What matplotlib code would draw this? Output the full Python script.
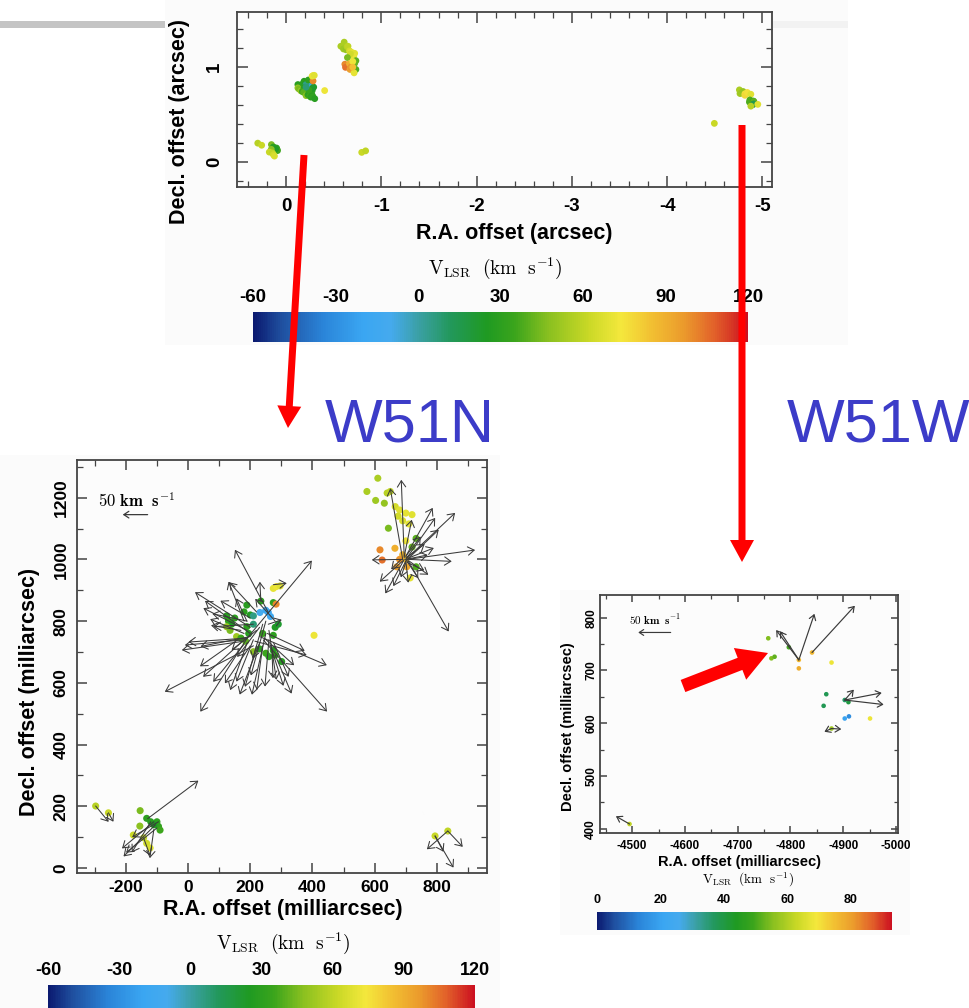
import numpy as np
import matplotlib
matplotlib.use('Agg')
import matplotlib.pyplot as plt
from matplotlib.colors import LinearSegmentedColormap, Normalize
from matplotlib.patches import Rectangle, FancyArrow
from matplotlib.ticker import MultipleLocator
import matplotlib.cm as cm

plt.rcParams['axes.unicode_minus'] = False
plt.rcParams['mathtext.fontset'] = 'cm'
plt.rcParams['font.family'] = ['Liberation Sans', 'DejaVu Sans']
plt.rcParams['font.weight'] = 'bold'

W, H = 970, 1008

# colour scale of the VLSR bars
cmap_pos = [0.0, 0.056, 0.139, 0.222, 0.278, 0.333, 0.40, 0.472, 0.528, 0.60, 0.678, 0.744, 0.806, 0.872, 0.933, 1.0]
cmap_col = ['#0b1a70', '#1f4f9f', '#2a84d8', '#3aa6f2', '#45aaee', '#3ba0a6', '#22985a', '#1f9a22',
            '#3aa41c', '#8cc120', '#c9d826', '#f4e83c', '#f2c032', '#eb9a2c', '#e2622a', '#cc1020']
cbar_ticks_n = [-60, -30, 0, 30, 60, 90, 120]
cbar_ticks_w = [0, 20, 40, 60, 80]

# W51N maser spots (mas, mas, km/s)
n_x = [124, 130, 140, 150, 124, 135, 156, 189, 180, 200, 231, 258, 265, 250, 210, 189, 195, 170, 185, 210,
       230, 250, 274, 260, 280, 301, 274, 280, 290, 240, 234, 274, 283, 274, 284, 296, 405, 210,
       610, 575, 603, 631, 640, 650, 666, 680, 700, 720, 690, 710, 675, 644,
       617, 624, 665, 671, 703, 690, 680, 733, 733, 720, 714, 700, 700,
       -297, -256, -154, -133, -120, -100, -95, -90, -110, -155, -176, -143, -133, -122,
       794, 835]
n_y = [817, 800, 790, 810, 782, 770, 750, 852, 830, 820, 828, 828, 815, 835, 817, 782, 760, 745, 735, 701,
       710, 696, 705, 685, 690, 669, 754, 780, 790, 760, 865, 860, 855, 906, 912, 914, 754, 790,
       1263, 1220, 1191, 1182, 1215, 1220, 1171, 1160, 1150, 1145, 1125, 1115, 1140, 1101,
       1031, 998, 1036, 976, 976, 1015, 1000, 1068, 976, 1040, 940, 1060, 1000,
       201, 179, 186, 161, 150, 150, 135, 123, 140, 136, 107, 98, 80, 65,
       104, 120]
n_v = [28, 32, 25, 30, 50, 45, 52, 28, 30, 26, -10, -20, -15, -18, 5, 30, 28, 35, 40, 48,
       30, 35, 28, 30, 32, 28, 30, 25, 22, 34, 30, 30, 100, 70, 72, 68, 72, 8,
       55, 55, 52, 50, 58, 60, 65, 68, 70, 68, 66, 70, 64, 45,
       100, 105, 90, 95, 92, 88, 98, 40, 38, 42, 70, 72, 85,
       58, 62, 45, 30, 28, 30, 32, 35, 25, 48, 62, 60, 64, 66,
       62, 60]

# W51N proper motions: origin (mas) and velocity (km/s)
na_x = [258, 190, 190, 234, 274, 242, 230, 215, 258, 200, 180, 189, 200, 190, 180, 190, 185, 180, 210, 160,
        170, 180, 200, 190, 210, 220, 250, 240, 260, 270, 265, 280, 275,
        190, 200, 210, 220, 230, 240, 250, 260, 230, 200, 170, 245, 255, 280, 220,
        695, 690, 700, 705, 700, 705, 695, 705, 710, 710, 690, 690, 700, 695, 700, 705, 700, 700, 705, 700,
        700, 710, 700, 685,
        -130, -297, -256, -110, -105, -100, -110, -95, -143, -120,
        835, 835, 794, 794]
na_y = [828, 745, 745, 865, 918, 739, 750, 735, 790, 780, 800, 800, 760, 770, 760, 745, 740, 735, 720, 740,
        730, 725, 720, 730, 740, 720, 760, 720, 740, 700, 720, 690, 730,
        800, 810, 790, 770, 780, 790, 800, 770, 730, 750, 770, 745, 760, 800, 830,
        1005, 1000, 1010, 1005, 1000, 1000, 1010, 1000, 1000, 995, 1000, 995, 995, 1000, 995, 1000, 1005, 1000,
        990, 1000, 1010, 1005, 990, 1000,
        160, 201, 179, 150, 140, 130, 125, 150, 98, 150,
        120, 120, 104, 104]
na_vx = [-67, 130, -94, -2, 27, 128, 135, 104, 27, -111, -31, -21, -91, -88, -68, -118, -122, -125, -178, -76,
         -76, -62, -51, -34, -34, -23, -28, -12, -8, 2, 26, 33, 30,
         -70, -60, -80, -50, -45, -20, -30, 15, -40, -100, -60, 60, 75, -40, -55,
         -6, -25, 54, 96, 59, 63, 15, 136, 86, 39, -62, -46, -25, -38, 5, 83, 38, 44, 34, 25,
         30, 50, -10, -20,
         102, 26, 10, -64, -64, -62, -8, -53, 13, -38,
         -42, 30, 37, 17]
na_vy = [127, 157, -149, 39, 3, -145, -58, -28, 9, 71, 80, 46, 66, 45, 29, -8, -11, -18, -93, -54,
         -69, -76, -76, -96, -85, -83, -124, -89, -95, -53, -81, -78, -69,
         15, 35, -5, -40, -60, -70, -110, -100, -105, -20, 10, -55, -35, 45, 60,
         158, 144, 98, 91, 84, 60, 74, 19, -4, -28, -1, -42, -51, -69, -44, -146, 28, 9, -16, -38,
         40, 20, -30, -20,
         77, -32, -18, -54, -64, -50, -58, -31, -36, -62,
         -37, -32, -64, -32]

# W51W maser spots
w_x = [-4758, -4764, -4770, -4797, -4816, -4816, -4841, -4878, -4868, -4863, -4903, -4910, -4903, -4911,
       -4951, -4878, -4495]
w_y = [761, 723, 726, 744, 720, 704, 734, 715, 655, 633, 644, 640, 609, 613, 609, 590, 409]
w_v = [55, 55, 52, 50, 76, 78, 76, 68, 38, 38, 36, 40, 20, 15, 68, 58, 62]

# W51W proper motions
wa_x = [-4816, -4816, -4816, -4841, -4903, -4903, -4903, -4878, -4878, -4495]
wa_y = [720, 720, 720, 734, 644, 644, 644, 590, 590, 409]
wa_vx = [35, 29, -24, -66, -14, -57, -60, 11, -15, 21]
wa_vy = [46, 44, 71, 72, 16, 11, -7, -5, -1, 12]

scale_n = 1.6   # mas per km/s in the W51N map
scale_w = 1.23  # mas per km/s in the W51W map

cmap = LinearSegmentedColormap.from_list('vlsr', list(zip(cmap_pos, cmap_col)))
norm_n = Normalize(-60, 120)
norm_w = Normalize(0, 93)
ARROW = '->,head_length=0.45,head_width=0.3'


def px(x0, y0, x1, y1):
    return [x0 / W, 1 - y1 / H, (x1 - x0) / W, (y1 - y0) / H]


def style_axes(ax, major, minor, size, majlen, minlen, xpad, ypad):
    ax.set_facecolor('#fcfcfc')
    for s in ax.spines.values():
        s.set_color('#444444')
        s.set_linewidth(1.3)
    ax.xaxis.set_major_locator(MultipleLocator(major[0]))
    ax.xaxis.set_minor_locator(MultipleLocator(minor[0]))
    ax.yaxis.set_major_locator(MultipleLocator(major[1]))
    ax.yaxis.set_minor_locator(MultipleLocator(minor[1]))
    ax.tick_params(which='both', direction='in', top=True, right=True, color='#444444')
    ax.tick_params(which='major', length=majlen, width=1.1, labelsize=size)
    ax.tick_params(which='minor', length=minlen, width=0.9)
    ax.tick_params(axis='x', pad=xpad)
    ax.tick_params(axis='y', pad=ypad)
    for t in ax.get_yticklabels():
        t.set_rotation(90)
        t.set_va('center')


def draw_arrows(ax, x0, y0, vx, vy, scale, lw, ms):
    for a, b, c, d in zip(x0, y0, vx, vy):
        ax.annotate('', xy=(a + c * scale, b + d * scale), xytext=(a, b),
                    arrowprops=dict(arrowstyle=ARROW, color='#3a3a3a', lw=lw,
                                    shrinkA=0, shrinkB=0, mutation_scale=ms), zorder=3)


def colorbar(rect, norm, ticks, size):
    cax = fig.add_axes(px(*rect))
    cb = fig.colorbar(cm.ScalarMappable(norm=norm, cmap=cmap), cax=cax, orientation='horizontal', ticks=ticks)
    cb.outline.set_visible(False)
    cax.xaxis.set_ticks_position('top')
    cax.tick_params(length=0, pad=4, labelsize=size)
    return cax


fig = plt.figure(figsize=(W / 100, H / 100), dpi=100)

# slide background pieces
under = fig.add_axes([0, 0, 1, 1], zorder=-5)
under.set_xlim(0, W)
under.set_ylim(H, 0)
under.axis('off')
under.add_patch(Rectangle((165, 0), 683, 345, color='#fbfbfb', lw=0))
under.add_patch(Rectangle((0, 455), 500, 553, color='#fbfbfb', lw=0))
under.add_patch(Rectangle((560, 590), 350, 345, color='#fbfbfb', lw=0))
under.add_patch(Rectangle((0, 21), 165, 7, color='#c4c4c4', lw=0))
under.add_patch(Rectangle((773, 21), 75, 7, color='#f2f2f2', lw=0))

# ---- overview panel (arcsec)
ax1 = fig.add_axes(px(237, 12, 772, 187))
ax1.scatter(-np.array(n_x) / 1000, np.array(n_y) / 1000, c=n_v, cmap=cmap, norm=norm_n, s=24, lw=0, zorder=2)
ax1.scatter(np.array(w_x) / 1000, np.array(w_y) / 1000, c=w_v, cmap=cmap, norm=norm_n, s=24, lw=0, zorder=2)
ax1.set_xlim(0.515, -5.1)
ax1.set_ylim(-0.26, 1.58)
style_axes(ax1, (1, 1), (0.2, 0.2), 13.5, 8, 4, 8, 10)
fig.text(514 / W, 1 - 233 / H, 'R.A. offset (arcsec)', fontsize=15.5, ha='center', va='center')
fig.text(180 / W, 1 - 121 / H, 'Decl. offset (arcsec)', fontsize=15.5, ha='center', va='center', rotation=90)
fig.text(495 / W, 1 - 268 / H, r'$\mathrm{V_{LSR}\ \ (km\ \ s^{-1})}$', fontsize=14, ha='center', va='center')
colorbar((253, 312, 748, 342), norm_n, cbar_ticks_n, 13.5)

# ---- W51N panel (mas)
ax2 = fig.add_axes(px(77, 460, 487, 873))
ax2.scatter(n_x, n_y, c=n_v, cmap=cmap, norm=norm_n, s=26, lw=0, zorder=2)
draw_arrows(ax2, na_x, na_y, na_vx, na_vy, scale_n, 0.75, 10)
ax2.set_xlim(-357, 961)
ax2.set_ylim(-16, 1322)
style_axes(ax2, (200, 200), (100, 100), 12.5, 7, 4, 5, 6)
ax2.annotate('', xy=(-130 - 50 * scale_n, 1145), xytext=(-130, 1145),
             arrowprops=dict(arrowstyle=ARROW, color='#3a3a3a', lw=0.9, shrinkA=0, shrinkB=0, mutation_scale=8))
ax2.text(0.146, 0.903, r'$\mathbf{50\ km\ \ s^{-1}}$', transform=ax2.transAxes, fontsize=12, ha='center', va='center')
fig.text(283 / W, 1 - 910 / H, 'R.A. offset (milliarcsec)', fontsize=15.5, ha='center', va='center')
fig.text(30 / W, 1 - 692 / H, 'Decl. offset (milliarcsec)', fontsize=15.5, ha='center', va='center', rotation=90)
fig.text(283 / W, 1 - 943 / H, r'$\mathrm{V_{LSR}\ \ (km\ \ s^{-1})}$', fontsize=14, ha='center', va='center')
colorbar((48, 985, 475, 1012), norm_n, cbar_ticks_n, 13)

# ---- W51W panel (mas)
ax3 = fig.add_axes(px(600, 595, 898, 833))
ax3.scatter(w_x, w_y, c=w_v, cmap=cmap, norm=norm_w, s=11, lw=0, zorder=2)
draw_arrows(ax3, wa_x, wa_y, wa_vx, wa_vy, scale_w, 0.85, 8)
ax3.set_xlim(-4439, -5004)
ax3.set_ylim(392, 843)
style_axes(ax3, (100, 100), (50, 50), 8.5, 5, 3, 5, 2)
ax3.annotate('', xy=(-4573 + 50 * scale_w, 772), xytext=(-4573, 772),
             arrowprops=dict(arrowstyle=ARROW, color='#3a3a3a', lw=0.85, shrinkA=0, shrinkB=0, mutation_scale=7))
ax3.text(0.185, 0.898, r'$\mathbf{50\ km\ \ s^{-1}}$', transform=ax3.transAxes, fontsize=8, ha='center', va='center')
fig.text(740 / W, 1 - 862 / H, 'R.A. offset (milliarcsec)', fontsize=10.5, ha='center', va='center')
fig.text(568 / W, 1 - 727 / H, 'Decl. offset (milliarcsec)', fontsize=10.5, ha='center', va='center', rotation=90)
fig.text(748 / W, 1 - 880 / H, r'$\mathrm{V_{LSR}\ \ (km\ \ s^{-1})}$', fontsize=9.5, ha='center', va='center')
colorbar((597, 912, 892, 930), norm_w, cbar_ticks_w, 9)

# ---- slide annotations
over = fig.add_axes([0, 0, 1, 1], zorder=10)
over.set_xlim(0, W)
over.set_ylim(H, 0)
over.axis('off')
over.add_patch(FancyArrow(304, 155, -16, 273, width=7, head_width=24, head_length=22,
                          length_includes_head=True, color='#ff0000', lw=0))
over.add_patch(FancyArrow(742, 125, 0, 437, width=7, head_width=24, head_length=22,
                          length_includes_head=True, color='#ff0000', lw=0))
over.add_patch(FancyArrow(683, 686, 85, -33, width=13, head_width=34, head_length=30,
                          length_includes_head=True, color='#ff0000', lw=0))
over.text(325, 442, 'W51N', fontsize=44, fontweight='normal', color='#3c3cc8', ha='left', va='baseline')
over.text(787, 442, 'W51W', fontsize=44, fontweight='normal', color='#3c3cc8', ha='left', va='baseline')

fig.savefig('out.png', dpi=100, facecolor='white')
